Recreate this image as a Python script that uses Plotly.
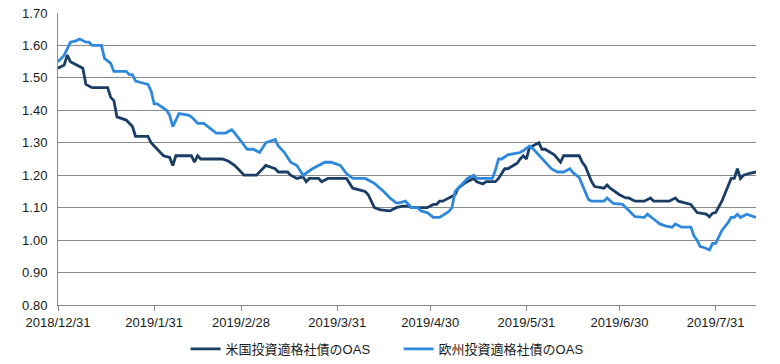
import plotly.graph_objects as go

# --- data ---
us_dates = [
    "2018-12-31", "2019-01-02", "2019-01-03", "2019-01-04", "2019-01-08", "2019-01-09",
    "2019-01-11", "2019-01-16", "2019-01-17", "2019-01-18", "2019-01-19", "2019-01-22",
    "2019-01-24", "2019-01-25", "2019-01-29", "2019-01-30", "2019-02-01", "2019-02-03",
    "2019-02-05", "2019-02-06", "2019-02-07", "2019-02-12", "2019-02-13", "2019-02-14",
    "2019-02-15", "2019-02-22", "2019-02-24", "2019-02-26", "2019-02-27", "2019-03-01",
    "2019-03-05", "2019-03-08", "2019-03-11", "2019-03-12", "2019-03-15", "2019-03-16",
    "2019-03-18", "2019-03-20", "2019-03-21", "2019-03-22", "2019-03-25", "2019-03-26",
    "2019-03-28", "2019-04-03", "2019-04-05", "2019-04-09", "2019-04-10", "2019-04-12",
    "2019-04-14", "2019-04-16", "2019-04-17", "2019-04-19", "2019-04-21", "2019-04-23",
    "2019-04-24", "2019-04-29", "2019-05-01", "2019-05-02", "2019-05-03", "2019-05-04",
    "2019-05-06", "2019-05-08", "2019-05-09", "2019-05-11", "2019-05-13", "2019-05-14",
    "2019-05-15", "2019-05-17", "2019-05-18", "2019-05-21", "2019-05-22", "2019-05-24",
    "2019-05-25", "2019-05-28", "2019-05-29", "2019-05-30", "2019-05-31", "2019-06-01",
    "2019-06-02", "2019-06-04", "2019-06-05", "2019-06-06", "2019-06-09", "2019-06-11",
    "2019-06-12", "2019-06-17", "2019-06-18", "2019-06-19", "2019-06-21", "2019-06-22",
    "2019-06-24", "2019-06-25", "2019-06-26", "2019-06-27", "2019-06-30", "2019-07-02",
    "2019-07-03", "2019-07-05", "2019-07-08", "2019-07-10", "2019-07-11", "2019-07-16",
    "2019-07-18", "2019-07-19", "2019-07-23", "2019-07-25", "2019-07-28", "2019-07-29",
    "2019-07-30", "2019-07-31", "2019-08-02", "2019-08-04", "2019-08-05", "2019-08-06",
    "2019-08-07", "2019-08-08", "2019-08-09", "2019-08-11", "2019-08-13",
]
us_oas = [
    1.53, 1.54, 1.57, 1.55, 1.53, 1.48,
    1.47, 1.47, 1.44, 1.43, 1.38, 1.37,
    1.35, 1.32, 1.32, 1.30, 1.28, 1.26,
    1.255, 1.23, 1.26, 1.26, 1.24, 1.26,
    1.25, 1.25, 1.243, 1.23, 1.22, 1.20,
    1.20, 1.23, 1.22, 1.21, 1.21, 1.20,
    1.19, 1.195, 1.18, 1.19, 1.19, 1.18,
    1.19, 1.19, 1.16, 1.15, 1.14, 1.10,
    1.093, 1.09, 1.09, 1.10, 1.105, 1.105,
    1.10, 1.10, 1.11, 1.11, 1.12, 1.12,
    1.13, 1.14, 1.16, 1.175, 1.185, 1.19,
    1.18, 1.173, 1.18, 1.18, 1.19, 1.22,
    1.22, 1.237, 1.25, 1.26, 1.25, 1.286,
    1.29, 1.30, 1.28, 1.28, 1.263, 1.24,
    1.26, 1.26, 1.24, 1.227, 1.18, 1.165,
    1.162, 1.16, 1.17, 1.16, 1.14, 1.13,
    1.13, 1.12, 1.12, 1.13, 1.12, 1.12,
    1.13, 1.12, 1.11, 1.085, 1.08, 1.072,
    1.083, 1.085, 1.12, 1.163, 1.19, 1.19,
    1.22, 1.19, 1.20, 1.206, 1.21,
]

eu_dates = [
    "2018-12-31", "2019-01-02", "2019-01-04", "2019-01-06", "2019-01-07", "2019-01-09",
    "2019-01-10", "2019-01-11", "2019-01-14", "2019-01-15", "2019-01-17", "2019-01-18",
    "2019-01-22", "2019-01-23", "2019-01-24", "2019-01-25", "2019-01-27", "2019-01-29",
    "2019-01-30", "2019-01-31", "2019-02-01", "2019-02-03", "2019-02-04", "2019-02-05",
    "2019-02-06", "2019-02-08", "2019-02-11", "2019-02-12", "2019-02-14", "2019-02-16",
    "2019-02-18", "2019-02-20", "2019-02-23", "2019-02-25", "2019-02-26", "2019-03-01",
    "2019-03-02", "2019-03-04", "2019-03-06", "2019-03-08", "2019-03-10", "2019-03-11",
    "2019-03-12", "2019-03-14", "2019-03-16", "2019-03-18", "2019-03-19", "2019-03-20",
    "2019-03-23", "2019-03-25", "2019-03-27", "2019-03-29", "2019-04-01", "2019-04-03",
    "2019-04-05", "2019-04-09", "2019-04-12", "2019-04-15", "2019-04-17", "2019-04-19",
    "2019-04-20", "2019-04-22", "2019-04-24", "2019-04-26", "2019-04-27", "2019-04-29",
    "2019-05-01", "2019-05-03", "2019-05-06", "2019-05-07", "2019-05-08", "2019-05-11",
    "2019-05-12", "2019-05-14", "2019-05-15", "2019-05-20", "2019-05-21", "2019-05-22",
    "2019-05-23", "2019-05-25", "2019-05-29", "2019-05-30", "2019-06-01", "2019-06-02",
    "2019-06-04", "2019-06-05", "2019-06-08", "2019-06-10", "2019-06-12", "2019-06-14",
    "2019-06-15", "2019-06-17", "2019-06-19", "2019-06-20", "2019-06-21", "2019-06-25",
    "2019-06-26", "2019-06-28", "2019-07-01", "2019-07-03", "2019-07-05", "2019-07-08",
    "2019-07-09", "2019-07-11", "2019-07-13", "2019-07-15", "2019-07-17", "2019-07-18",
    "2019-07-20", "2019-07-23", "2019-07-24", "2019-07-25", "2019-07-26", "2019-07-27",
    "2019-07-29", "2019-07-30", "2019-07-31", "2019-08-02", "2019-08-04", "2019-08-05",
    "2019-08-06", "2019-08-07", "2019-08-08", "2019-08-10", "2019-08-13",
]
eu_oas = [
    1.55, 1.57, 1.61, 1.615, 1.62, 1.61,
    1.61, 1.60, 1.60, 1.56, 1.545, 1.52,
    1.52, 1.51, 1.51, 1.49, 1.485, 1.48,
    1.46, 1.42, 1.42, 1.405, 1.40, 1.385,
    1.35, 1.39, 1.385, 1.38, 1.36, 1.36,
    1.345, 1.33, 1.33, 1.34, 1.33, 1.29,
    1.28, 1.28, 1.27, 1.30, 1.307, 1.31,
    1.29, 1.27, 1.24, 1.23, 1.215, 1.20,
    1.22, 1.23, 1.24, 1.24, 1.23, 1.205,
    1.19, 1.19, 1.175, 1.15, 1.13, 1.115,
    1.115, 1.12, 1.10, 1.10, 1.09, 1.085,
    1.07, 1.07, 1.088, 1.10, 1.15, 1.18,
    1.19, 1.20, 1.19, 1.19, 1.215, 1.25,
    1.25, 1.263, 1.27, 1.276, 1.29, 1.283,
    1.263, 1.25, 1.22, 1.21, 1.21, 1.22,
    1.208, 1.193, 1.145, 1.125, 1.12, 1.12,
    1.13, 1.113, 1.11, 1.09, 1.072, 1.07,
    1.08, 1.065, 1.05, 1.043, 1.04, 1.05,
    1.04, 1.04, 1.013, 1.00, 0.98, 0.978,
    0.97, 0.99, 0.99, 1.03, 1.054, 1.07,
    1.07, 1.08, 1.07, 1.08, 1.07,
]

series_names = ["米国投資適格社債のOAS", "欧州投資適格社債のOAS"]
x_tick_dates = ["2018-12-31", "2019-01-31", "2019-02-28", "2019-03-31",
                "2019-04-30", "2019-05-31", "2019-06-30", "2019-07-31"]
x_tick_labels = ["2018/12/31", "2019/1/31", "2019/2/28", "2019/3/31",
                 "2019/4/30", "2019/5/31", "2019/6/30", "2019/7/31"]
y_ticks = [0.80, 0.90, 1.00, 1.10, 1.20, 1.30, 1.40, 1.50, 1.60, 1.70]

FONT = "Liberation Sans, Arial, Noto Sans CJK JP, sans-serif"
GRID = "#8a8a8a"

fig = go.Figure()
fig.add_trace(go.Scatter(x=us_dates, y=us_oas, mode="lines", name=series_names[0],
                         line=dict(color="#1a3d66", width=2.8)))
fig.add_trace(go.Scatter(x=eu_dates, y=eu_oas, mode="lines", name=series_names[1],
                         line=dict(color="#2e88dc", width=2.8)))

fig.update_layout(
    width=780, height=364,
    margin=dict(l=58, r=24, t=13, b=59, autoexpand=False),
    paper_bgcolor="white", plot_bgcolor="white",
    font=dict(family=FONT, size=13, color="#1a1a1a"),
    legend=dict(orientation="h", x=0.488, xanchor="center",
                yref="container", y=0.0, yanchor="bottom",
                font=dict(size=13), itemwidth=30, tracegroupgap=0,
                entrywidthmode="pixels", entrywidth=168),
    showlegend=True,
)
fig.update_xaxes(
    type="date", range=["2018-12-31", "2019-08-13"], automargin=False,
    tickmode="array", tickvals=x_tick_dates, ticktext=x_tick_labels,
    showgrid=False, showline=True, linecolor=GRID, linewidth=1,
    ticks="outside", ticklen=5, tickcolor=GRID, tickwidth=1,
    tickfont=dict(size=13), zeroline=False,
)
fig.update_yaxes(
    range=[0.80, 1.70], tickmode="array", tickvals=y_ticks, automargin=False,
    ticktext=[f"{v:.2f}" for v in y_ticks],
    showgrid=True, gridcolor=GRID, gridwidth=1,
    showline=True, linecolor=GRID, linewidth=1,
    ticks="", ticklabelstandoff=7, tickfont=dict(size=13), zeroline=False,
)

# remove the default 8px page margin so the figure sits at the window origin
fig.write_html("out.html", config={"displayModeBar": False},
               post_script="document.body.style.margin='0';")
